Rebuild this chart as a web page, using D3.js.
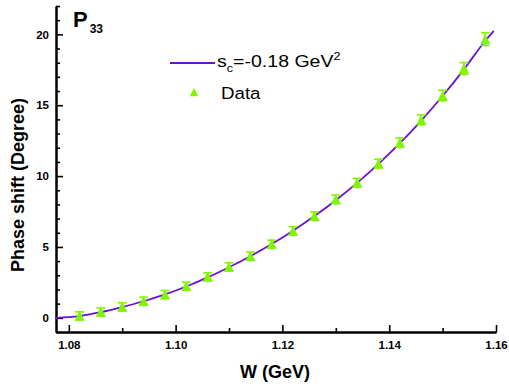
<!DOCTYPE html>
<html>
<head>
<meta charset="utf-8">
<script src="https://cdn.jsdelivr.net/npm/d3@7"></script>
<style>
  html, body { margin: 0; padding: 0; background: #fff; }
  svg { display: block; font-family: "Liberation Sans", Arial, Helvetica, sans-serif; }
</style>
</head>
<body>
<svg id="chart" width="509" height="387"></svg>
<script>
// P33 phase shift versus centre-of-mass energy W
const energies = [1.082, 1.086, 1.090, 1.094, 1.098, 1.102, 1.106, 1.110, 1.114, 1.118,
                  1.122, 1.126, 1.130, 1.134, 1.138, 1.142, 1.146, 1.150, 1.154, 1.158];
const phaseShifts = [0.14, 0.42, 0.78, 1.18, 1.65, 2.24, 2.90, 3.60, 4.36, 5.20,
                     6.15, 7.19, 8.36, 9.54, 10.88, 12.37, 13.97, 15.69, 17.60, 19.67];
const phaseErrors = [0.28, 0.28, 0.28, 0.28, 0.28, 0.28, 0.28, 0.28, 0.28, 0.28,
                     0.28, 0.28, 0.30, 0.30, 0.31, 0.32, 0.34, 0.37, 0.41, 0.45];

// fitted curve, s_c = -0.18 GeV^2
const curveW = [1.0776, 1.082, 1.086, 1.090, 1.094, 1.098, 1.102, 1.106, 1.110, 1.114, 1.118,
                1.122, 1.126, 1.130, 1.134, 1.138, 1.142, 1.146, 1.150, 1.154, 1.158, 1.1596];
const curvePhase = [0.00, 0.12, 0.40, 0.76, 1.17, 1.65, 2.21, 2.85, 3.57, 4.35, 5.21,
                    6.15, 7.18, 8.30, 9.52, 10.86, 12.32, 13.92, 15.65, 17.53, 19.55, 20.25];

const xMajorTicks = [1.08, 1.10, 1.12, 1.14, 1.16];
const xMinorTicks = [1.09, 1.11, 1.13, 1.15];
const yMajorTicks = [0, 5, 10, 15, 20];
const yMinorTicks = [-1, 1, 2, 3, 4, 6, 7, 8, 9, 11, 12, 13, 14, 16, 17, 18, 19, 21, 22];

const lineColor = "#6a12d4";
const markerColor = "#80f500";

const svg = d3.select("#chart");
const plotLeft = 56, plotRight = 496, plotTop = 6, plotBottom = 332;

const x = d3.scaleLinear().domain([1.0776, 1.16]).range([plotLeft, plotRight]);
const y = d3.scaleLinear().domain([-1, 22]).range([plotBottom, plotTop]);

// axes (ticks point inward)
const xMinor = svg.append("g").attr("transform", `translate(0,${plotBottom})`)
  .call(d3.axisBottom(x).tickValues(xMinorTicks).tickSize(-4).tickSizeOuter(0).tickFormat(""));
const xMajor = svg.append("g").attr("transform", `translate(0,${plotBottom})`)
  .call(d3.axisBottom(x).tickValues(xMajorTicks).tickSize(-7).tickSizeOuter(0)
    .tickFormat(d3.format(".2f")).tickPadding(9));
const yMinor = svg.append("g").attr("transform", `translate(${plotLeft},0)`)
  .call(d3.axisLeft(y).tickValues(yMinorTicks).tickSize(-4).tickSizeOuter(0).tickFormat(""));
const yMajor = svg.append("g").attr("transform", `translate(${plotLeft},0)`)
  .call(d3.axisLeft(y).tickValues(yMajorTicks).tickSize(-7).tickSizeOuter(0)
    .tickFormat(d3.format("d")).tickPadding(7));

[xMinor, xMajor, yMinor, yMajor].forEach(g => {
  g.selectAll("path.domain").attr("stroke", "#000").attr("stroke-width", 2);
  g.selectAll(".tick line").attr("stroke", "#000").attr("stroke-width", 1.6);
});
[xMajor, yMajor].forEach(g => {
  g.selectAll(".tick text")
    .attr("fill", "#000")
    .style("font-family", "'Liberation Sans', Arial, sans-serif")
    .style("font-weight", "bold")
    .style("font-size", "11.5px");
});

// fitted curve
svg.append("path")
  .datum(curveW.map((w, i) => [w, curvePhase[i]]))
  .attr("fill", "none")
  .attr("stroke", lineColor)
  .attr("stroke-width", 1.8)
  .attr("d", d3.line().x(d => x(d[0])).y(d => y(d[1])).curve(d3.curveMonotoneX));

// upward triangle marker, 10 px wide and 10 px tall
const triangleType = {
  draw(ctx, size) {
    const h = Math.sqrt(size) / 2;
    ctx.moveTo(0, -h);
    ctx.lineTo(h, h);
    ctx.lineTo(-h, h);
    ctx.closePath();
  }
};
const tri = d3.symbol().type(triangleType).size(100);

// data with error bars
const pts = energies.map((w, i) => ({ w, v: phaseShifts[i], e: phaseErrors[i] }));
const gData = svg.append("g");
const capHalf = 4.5;
gData.selectAll("line.err").data(pts).join("line")
  .attr("x1", d => x(d.w)).attr("x2", d => x(d.w))
  .attr("y1", d => y(d.v - d.e) + 1.5).attr("y2", d => y(d.v + d.e))
  .attr("stroke", markerColor).attr("stroke-width", 1.6);
["lo", "hi"].forEach(k => {
  gData.selectAll("line.cap" + k).data(pts).join("line")
    .attr("x1", d => x(d.w) - capHalf).attr("x2", d => x(d.w) + capHalf)
    .attr("y1", d => y(k === "lo" ? d.v - d.e : d.v + d.e))
    .attr("y2", d => y(k === "lo" ? d.v - d.e : d.v + d.e))
    .attr("stroke", markerColor).attr("stroke-width", 1.6);
});
gData.selectAll("path.pt").data(pts).join("path")
  .attr("transform", d => `translate(${x(d.w)},${y(d.v)})`)
  .attr("d", tri)
  .attr("fill", markerColor);

// axis titles
svg.append("text")
  .attr("x", 275).attr("y", 378)
  .attr("text-anchor", "middle")
  .style("font-weight", "bold").style("font-size", "18px")
  .text("W (GeV)");
svg.append("text")
  .attr("transform", "translate(24,185) rotate(-90)")
  .attr("text-anchor", "middle")
  .style("font-weight", "bold").style("font-size", "18px")
  .text("Phase shift (Degree)");

// panel label P_33
const wave = svg.append("text").attr("x", 73).attr("y", 27)
  .style("font-weight", "bold");
wave.append("tspan").style("font-size", "22px").text("P");
wave.append("tspan").attr("dx", 2).attr("dy", 6).style("font-size", "12px").text("33");

// legend
svg.append("line")
  .attr("x1", 170).attr("x2", 215).attr("y1", 63).attr("y2", 63)
  .attr("stroke", lineColor).attr("stroke-width", 1.8);
const lg = svg.append("text")
  .attr("transform", "translate(217,67) scale(1.15,1)")
  .style("font-size", "17px");
lg.append("tspan").text("s");
lg.append("tspan").attr("dy", 5).style("font-size", "11px").text("c");
lg.append("tspan").attr("dy", -5).text("=-0.18 GeV");
lg.append("tspan").attr("dy", -7).style("font-size", "11px").text("2");

svg.append("path")
  .attr("transform", "translate(194,92)")
  .attr("d", d3.symbol().type(triangleType).size(70))
  .attr("fill", markerColor);
svg.append("text")
  .attr("transform", "translate(221,99) scale(1.1,1)")
  .style("font-size", "17px").text("Data");
</script>
</body>
</html>
